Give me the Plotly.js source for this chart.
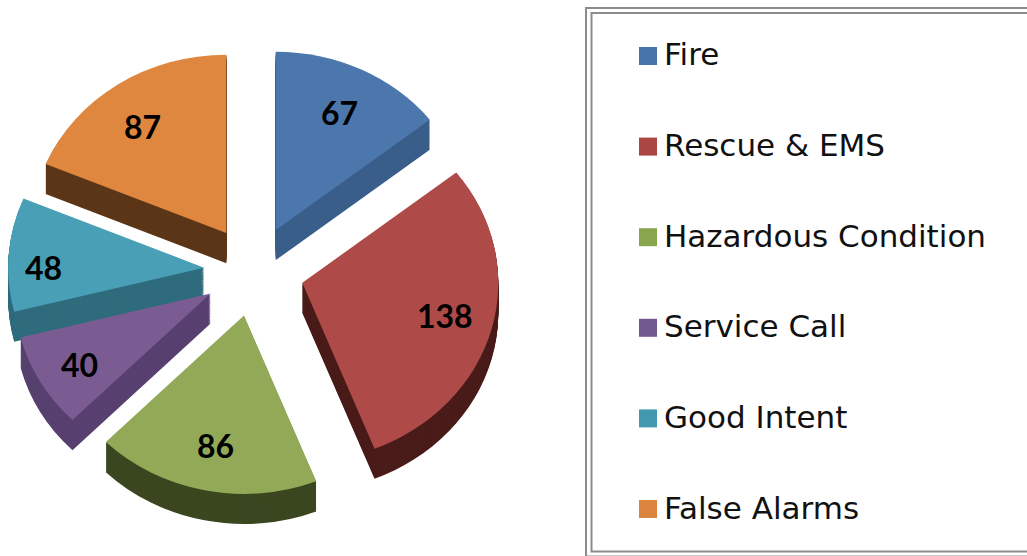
<!DOCTYPE html>
<html>
<head>
<meta charset="utf-8">
<script src="https://cdn.plot.ly/plotly-3.0.1.min.js"></script>
<style>html,body{margin:0;padding:0;background:#fff}#chart{width:1027px;height:556px}</style>
</head>
<body>
<div id="chart"></div>
<script>
var categories = ["Fire", "Rescue & EMS", "Hazardous Condition", "Service Call", "Good Intent", "False Alarms"];
var values = [67, 138, 86, 40, 48, 87];
var topColors = ["#4b77ac", "#ae4b49", "#92aa57", "#7a5c93", "#489fb6", "#df873f"];
var wallColors = ["#3a5e8a", "#4a1c1a", "#3b4720", "#57406f", "#2f6c7d", "#5c3618"];
var swatchColors = ["#4674aa", "#aa4643", "#89a54e", "#71588f", "#4198af", "#db843d"];
var labelNudgeX = [0, 1, 1, -3, -14, -2];
var labelNudgeY = [3, -2, -1, 5, 10, 5];

var W = 1027, H = 556;
var cx = 254, cy = 271, R = 196, pullFrac = 50 / 196, tilt = 0.91, depth = 33;
var half = R * (1 + pullFrac);
var pulls = values.map(function () { return pullFrac; });

function pieTrace(offset, colors, isTop) {
  return {
    type: "pie", labels: categories, values: values, sort: false,
    direction: "clockwise", rotation: 0, pull: pulls,
    marker: { colors: colors, line: { width: 0 } },
    textinfo: "none", hoverinfo: isTop ? "label+value" : "skip", showlegend: false,
    domain: {
      x: [(cx - half) / W, (cx + half) / W],
      y: [1 - (cy + offset + half) / H, 1 - (cy + offset - half) / H]
    }
  };
}
var traces = [];
for (var i = depth; i >= 1; i--) traces.push(pieTrace(i, wallColors, false));
traces.push(pieTrace(0, topColors, true));

var total = values.reduce(function (a, b) { return a + b; }, 0);
var annotations = [], shapes = [], acc = 0;
values.forEach(function (v, k) {
  var mid = (acc + v / 2) / total * 2 * Math.PI; acc += v;
  var r = R * pullFrac + 0.75 * R;
  annotations.push({
    xref: "paper", yref: "paper", showarrow: false,
    x: (cx + r * Math.sin(mid) + labelNudgeX[k]) / W,
    y: 1 - (cy - r * tilt * Math.cos(mid) + labelNudgeY[k]) / H,
    xanchor: "center", yanchor: "middle", text: String(v),
    font: { family: "Lato, sans-serif", size: 32, color: "#000", weight: 700 }
  });
});

// boxed key beside the pie
function box(x0, y0, x1, y1) {
  return { type: "rect", xref: "paper", yref: "paper", x0: x0 / W, x1: x1 / W, y0: 1 - y1 / H, y1: 1 - y0 / H,
    line: { color: "#8c8c8c", width: 2 }, fillcolor: "rgba(0,0,0,0)", layer: "below" };
}
shapes.push(box(586, 8, 1045, 556.5));
shapes.push(box(591.5, 13, 1045, 551.5));
categories.forEach(function (c, k) {
  var yc = 56 + k * 90.6;
  shapes.push({ type: "rect", xref: "paper", yref: "paper", x0: 639 / W, x1: 657 / W,
    y0: 1 - (yc + 9) / H, y1: 1 - (yc - 9) / H, fillcolor: swatchColors[k], line: { width: 0 } });
  annotations.push({
    xref: "paper", yref: "paper", showarrow: false, x: 662 / W, y: 1 - (yc - 1.5) / H,
    xanchor: "left", yanchor: "middle", text: c.replace("&", "&amp;"),
    font: { family: "DejaVu Sans, sans-serif", size: 31, color: "#111" }
  });
});

Plotly.newPlot("chart", traces, {
  width: W, height: H, margin: { l: 0, r: 0, t: 0, b: 0 },
  paper_bgcolor: "#fff", plot_bgcolor: "#fff", showlegend: false,
  annotations: annotations, shapes: shapes
}, { displayModeBar: false, staticPlot: true }).then(function (gd) {
  // the pies are round in the library: lay them back to the chart's viewing tilt
  var layer = gd.querySelector(".pielayer");
  if (layer) layer.setAttribute("transform", "translate(0," + (cy * (1 - tilt)) + ") scale(1," + tilt + ")");
});
</script>
</body>
</html>
